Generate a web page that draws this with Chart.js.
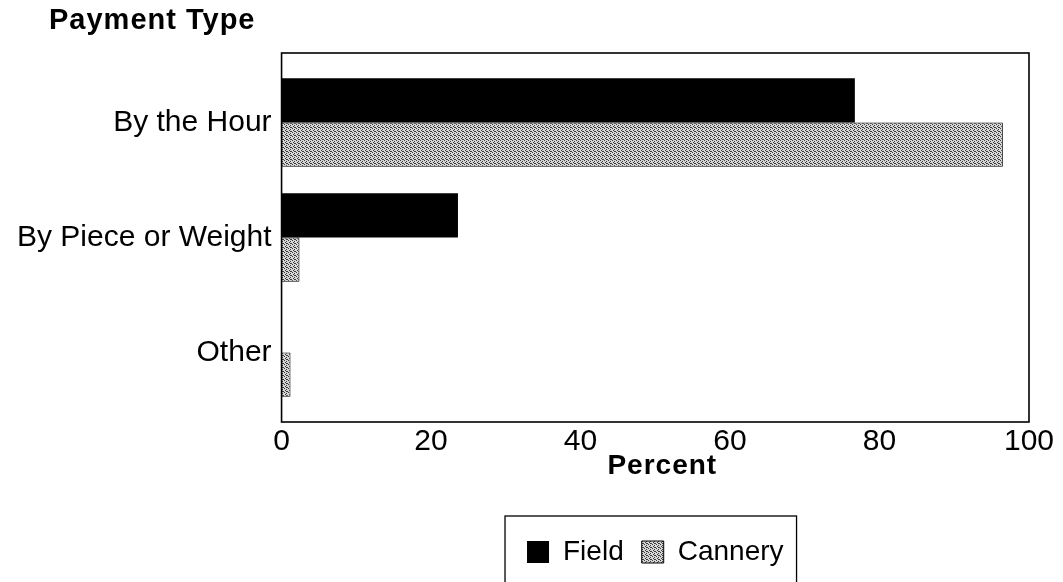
<!DOCTYPE html>
<html>
<head>
<meta charset="utf-8">
<script src="https://cdn.jsdelivr.net/npm/chart.js@4"></script>
<style>
  html, body { margin: 0; padding: 0; background: #fff; }
  #wrap { width: 1063px; height: 582px; }
</style>
</head>
<body>
<div id="wrap"><canvas id="bar_chart" width="1063" height="582"></canvas></div>
<script>
// payment type by sector, percent of workers
var categories = ["By the Hour", "By Piece or Weight", "Other"];
var fieldValues = [76.7, 23.6, 0];
var canneryValues = [96.5, 2.4, 1.2];
var xTicks = [0, 20, 40, 60, 80, 100];

var FONT = "'Liberation Sans', Arial, Helvetica, sans-serif";

// stippled grey fill used for the cannery bars
function makeStipple() {
    var c = document.createElement('canvas');
    c.width = 4; c.height = 4;
    var g = c.getContext('2d');
    g.fillStyle = '#d6d6d6';
    g.fillRect(0, 0, 4, 4);
    g.fillStyle = '#3a3a3a';
    [[0, 0], [2, 1], [1, 2], [3, 3], [2, 3]].forEach(function (p) {
        g.fillRect(p[0], p[1], 1, 1);
    });
    return g.createPattern(c, 'repeat');
}
var stipple = makeStipple();

// frame round the plot (a bit taller than the category area), titles, legend frame
var decorations = {
    id: 'decorations',
    afterDraw: function (chart) {
        var ctx = chart.ctx;
        var a = chart.chartArea;
        var ext = 12;
        ctx.save();
        ctx.strokeStyle = '#000';
        ctx.lineWidth = 1.6;
        ctx.strokeRect(a.left, a.top - ext, a.right - a.left, a.bottom - a.top + 2 * ext);

        ctx.fillStyle = '#000';
        ctx.textBaseline = 'alphabetic';
        ctx.textAlign = 'left';
        ctx.font = "bold 29px " + FONT;
        ctx.letterSpacing = '1px';
        ctx.fillText('Payment Type', 49, 29);

        ctx.textAlign = 'center';
        ctx.textBaseline = 'middle';
        ctx.font = "bold 28px " + FONT;
        ctx.letterSpacing = '1px';
        ctx.fillText('Percent', (a.left + a.right) / 2 + 7, 466);
        ctx.letterSpacing = '0px';

        var boxes = chart.legend.legendHitBoxes;
        if (boxes && boxes.length) {
            var minX = Math.min.apply(null, boxes.map(function (b) { return b.left; }));
            var maxX = Math.max.apply(null, boxes.map(function (b) { return b.left + b.width; }));
            var minY = Math.min.apply(null, boxes.map(function (b) { return b.top; }));
            ctx.lineWidth = 1.3;
            ctx.strokeRect(minX - 22, minY - 22, (maxX - minX) + 35, 120);
        }
        ctx.restore();
    }
};

var ctx = document.getElementById('bar_chart').getContext('2d');
var barChart = new Chart(ctx, {
    type: 'bar',
    data: {
        labels: categories,
        datasets: [
            {
                label: 'Field',
                data: fieldValues,
                backgroundColor: '#000',
                borderWidth: 0
            },
            {
                label: 'Cannery',
                data: canneryValues,
                backgroundColor: stipple,
                borderColor: '#000',
                borderWidth: 1
            }
        ]
    },
    plugins: [decorations],
    options: {
        indexAxis: 'y',
        responsive: false,
        animation: false,
        devicePixelRatio: 1,
        categoryPercentage: 0.77,
        barPercentage: 1,
        layout: {
            padding: { top: 65, right: 34, bottom: 6, left: 7 }
        },
        scales: {
            x: {
                min: 0,
                max: 100,
                afterBuildTicks: function (axis) {
                    axis.ticks = xTicks.map(function (v) { return { value: v }; });
                },
                afterFit: function (axis) {
                    axis.height = 110;
                    axis.paddingLeft = 0;
                    axis.paddingRight = 0;
                },
                grid: { display: false, drawTicks: false },
                border: { display: false },
                ticks: {
                    color: '#000',
                    padding: 14,
                    font: { family: FONT, size: 30 }
                }
            },
            y: {
                grid: { display: false, drawTicks: false },
                border: { display: false },
                ticks: {
                    color: '#000',
                    padding: 10,
                    font: { family: FONT, size: 30 }
                }
            }
        },
        plugins: {
            legend: {
                position: 'bottom',
                fullSize: false,
                labels: {
                    color: '#000',
                    boxWidth: 22,
                    boxHeight: 22,
                    padding: 18,
                    font: { family: FONT, size: 28 }
                }
            },
            tooltip: { enabled: false }
        }
    }
});
</script>
</body>
</html>
